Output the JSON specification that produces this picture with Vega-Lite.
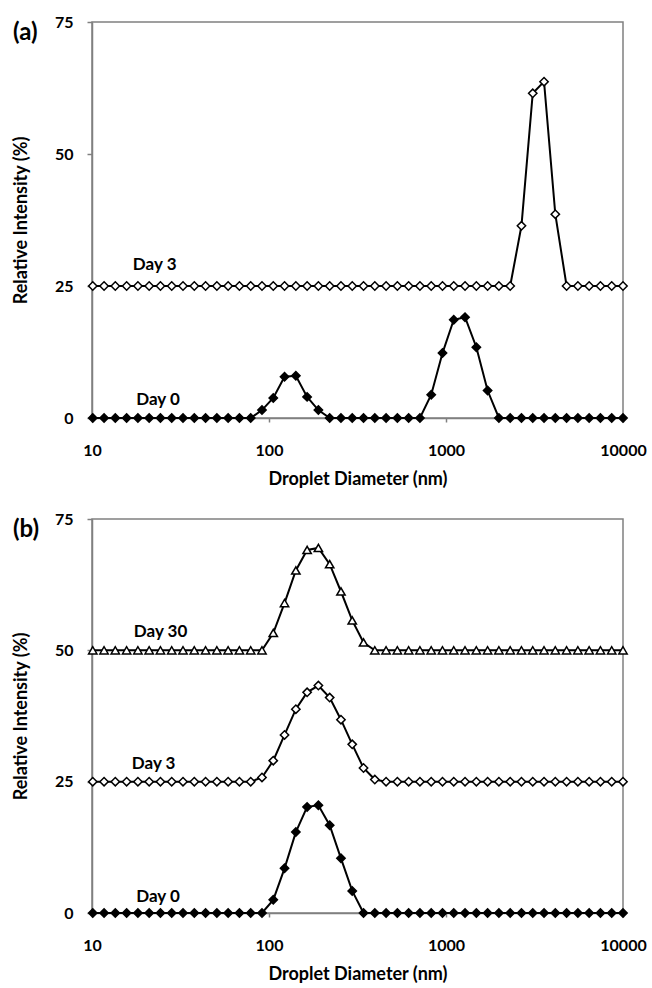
{
  "$schema": "https://vega.github.io/schema/vega-lite/v6.json",
  "padding": {"left": 11, "top": 13, "right": 5, "bottom": 2},
  "spacing": 21,
  "config": {
    "font": "Lato",
    "view": {"stroke": "#808080", "strokeWidth": 1.5},
    "axis": {"domainColor": "#808080", "domainWidth": 1.5, "tickColor": "#808080", "tickWidth": 1.5, "grid": false, "labelFont": "Lato", "labelFontWeight": "bold", "labelFontSize": 16, "labelColor": "black", "titleFont": "Lato", "titleFontWeight": "bold", "titleFontSize": 18, "titleColor": "black", "labelFlush": false},
    "axisX": {"tickSize": 4, "labelPadding": 20, "titlePadding": 12},
    "axisY": {"tickSize": 5, "labelPadding": 14, "titlePadding": 24},
    "title": {"fontSize": 24, "fontWeight": "bold", "font": "Lato", "anchor": "start", "frame": "group", "color": "black", "baseline": "middle", "offset": -5, "dx": -79, "dy": 26}
  },
  "datasets": {
    "a": [
      {"s":"Day 0","d":10.1,"v":0},{"s":"Day 0","d":11.7,"v":0},{"s":"Day 0","d":13.54,"v":0},{"s":"Day 0","d":15.69,"v":0},{"s":"Day 0","d":18.17,"v":0},{"s":"Day 0","d":21.04,"v":0},{"s":"Day 0","d":24.36,"v":0},{"s":"Day 0","d":28.21,"v":0},{"s":"Day 0","d":32.67,"v":0},{"s":"Day 0","d":37.84,"v":0},{"s":"Day 0","d":43.82,"v":0},{"s":"Day 0","d":50.75,"v":0},{"s":"Day 0","d":58.77,"v":0},{"s":"Day 0","d":68.06,"v":0},{"s":"Day 0","d":78.82,"v":0},{"s":"Day 0","d":91.28,"v":1.5},{"s":"Day 0","d":105.7,"v":3.8},{"s":"Day 0","d":122.4,"v":7.8},{"s":"Day 0","d":141.8,"v":8.0},{"s":"Day 0","d":164.2,"v":4.0},{"s":"Day 0","d":190.1,"v":1.5},{"s":"Day 0","d":220.2,"v":0},{"s":"Day 0","d":255,"v":0},{"s":"Day 0","d":295.3,"v":0},{"s":"Day 0","d":342,"v":0},{"s":"Day 0","d":396.1,"v":0},{"s":"Day 0","d":458.7,"v":0},{"s":"Day 0","d":531.2,"v":0},{"s":"Day 0","d":615.1,"v":0},{"s":"Day 0","d":712.4,"v":0},{"s":"Day 0","d":825,"v":4.4},{"s":"Day 0","d":955.4,"v":12.3},{"s":"Day 0","d":1106,"v":18.6},{"s":"Day 0","d":1281,"v":19.1},{"s":"Day 0","d":1484,"v":13.4},{"s":"Day 0","d":1718,"v":5.2},{"s":"Day 0","d":1990,"v":0},{"s":"Day 0","d":2305,"v":0},{"s":"Day 0","d":2669,"v":0},{"s":"Day 0","d":3091,"v":0},{"s":"Day 0","d":3580,"v":0},{"s":"Day 0","d":4145,"v":0},{"s":"Day 0","d":4801,"v":0},{"s":"Day 0","d":5560,"v":0},{"s":"Day 0","d":6439,"v":0},{"s":"Day 0","d":7456,"v":0},{"s":"Day 0","d":8635,"v":0},{"s":"Day 0","d":10000,"v":0},
      {"s":"Day 3","d":10.1,"v":25},{"s":"Day 3","d":11.7,"v":25},{"s":"Day 3","d":13.54,"v":25},{"s":"Day 3","d":15.69,"v":25},{"s":"Day 3","d":18.17,"v":25},{"s":"Day 3","d":21.04,"v":25},{"s":"Day 3","d":24.36,"v":25},{"s":"Day 3","d":28.21,"v":25},{"s":"Day 3","d":32.67,"v":25},{"s":"Day 3","d":37.84,"v":25},{"s":"Day 3","d":43.82,"v":25},{"s":"Day 3","d":50.75,"v":25},{"s":"Day 3","d":58.77,"v":25},{"s":"Day 3","d":68.06,"v":25},{"s":"Day 3","d":78.82,"v":25},{"s":"Day 3","d":91.28,"v":25},{"s":"Day 3","d":105.7,"v":25},{"s":"Day 3","d":122.4,"v":25},{"s":"Day 3","d":141.8,"v":25},{"s":"Day 3","d":164.2,"v":25},{"s":"Day 3","d":190.1,"v":25},{"s":"Day 3","d":220.2,"v":25},{"s":"Day 3","d":255,"v":25},{"s":"Day 3","d":295.3,"v":25},{"s":"Day 3","d":342,"v":25},{"s":"Day 3","d":396.1,"v":25},{"s":"Day 3","d":458.7,"v":25},{"s":"Day 3","d":531.2,"v":25},{"s":"Day 3","d":615.1,"v":25},{"s":"Day 3","d":712.4,"v":25},{"s":"Day 3","d":825,"v":25},{"s":"Day 3","d":955.4,"v":25},{"s":"Day 3","d":1106,"v":25},{"s":"Day 3","d":1281,"v":25},{"s":"Day 3","d":1484,"v":25},{"s":"Day 3","d":1718,"v":25},{"s":"Day 3","d":1990,"v":25},{"s":"Day 3","d":2305,"v":25},{"s":"Day 3","d":2669,"v":36.4},{"s":"Day 3","d":3091,"v":61.5},{"s":"Day 3","d":3580,"v":63.7},{"s":"Day 3","d":4145,"v":38.6},{"s":"Day 3","d":4801,"v":25},{"s":"Day 3","d":5560,"v":25},{"s":"Day 3","d":6439,"v":25},{"s":"Day 3","d":7456,"v":25},{"s":"Day 3","d":8635,"v":25},{"s":"Day 3","d":10000,"v":25}
    ],
    "b": [
      {"s":"Day 0","d":10.1,"v":0},{"s":"Day 0","d":11.7,"v":0},{"s":"Day 0","d":13.54,"v":0},{"s":"Day 0","d":15.69,"v":0},{"s":"Day 0","d":18.17,"v":0},{"s":"Day 0","d":21.04,"v":0},{"s":"Day 0","d":24.36,"v":0},{"s":"Day 0","d":28.21,"v":0},{"s":"Day 0","d":32.67,"v":0},{"s":"Day 0","d":37.84,"v":0},{"s":"Day 0","d":43.82,"v":0},{"s":"Day 0","d":50.75,"v":0},{"s":"Day 0","d":58.77,"v":0},{"s":"Day 0","d":68.06,"v":0},{"s":"Day 0","d":78.82,"v":0},{"s":"Day 0","d":91.28,"v":0},{"s":"Day 0","d":105.7,"v":2.5},{"s":"Day 0","d":122.4,"v":8.5},{"s":"Day 0","d":141.8,"v":15.4},{"s":"Day 0","d":164.2,"v":20.2},{"s":"Day 0","d":190.1,"v":20.5},{"s":"Day 0","d":220.2,"v":16.7},{"s":"Day 0","d":255,"v":10.4},{"s":"Day 0","d":295.3,"v":4.2},{"s":"Day 0","d":342,"v":0},{"s":"Day 0","d":396.1,"v":0},{"s":"Day 0","d":458.7,"v":0},{"s":"Day 0","d":531.2,"v":0},{"s":"Day 0","d":615.1,"v":0},{"s":"Day 0","d":712.4,"v":0},{"s":"Day 0","d":825,"v":0},{"s":"Day 0","d":955.4,"v":0},{"s":"Day 0","d":1106,"v":0},{"s":"Day 0","d":1281,"v":0},{"s":"Day 0","d":1484,"v":0},{"s":"Day 0","d":1718,"v":0},{"s":"Day 0","d":1990,"v":0},{"s":"Day 0","d":2305,"v":0},{"s":"Day 0","d":2669,"v":0},{"s":"Day 0","d":3091,"v":0},{"s":"Day 0","d":3580,"v":0},{"s":"Day 0","d":4145,"v":0},{"s":"Day 0","d":4801,"v":0},{"s":"Day 0","d":5560,"v":0},{"s":"Day 0","d":6439,"v":0},{"s":"Day 0","d":7456,"v":0},{"s":"Day 0","d":8635,"v":0},{"s":"Day 0","d":10000,"v":0},
      {"s":"Day 3","d":10.1,"v":25},{"s":"Day 3","d":11.7,"v":25},{"s":"Day 3","d":13.54,"v":25},{"s":"Day 3","d":15.69,"v":25},{"s":"Day 3","d":18.17,"v":25},{"s":"Day 3","d":21.04,"v":25},{"s":"Day 3","d":24.36,"v":25},{"s":"Day 3","d":28.21,"v":25},{"s":"Day 3","d":32.67,"v":25},{"s":"Day 3","d":37.84,"v":25},{"s":"Day 3","d":43.82,"v":25},{"s":"Day 3","d":50.75,"v":25},{"s":"Day 3","d":58.77,"v":25},{"s":"Day 3","d":68.06,"v":25},{"s":"Day 3","d":78.82,"v":25},{"s":"Day 3","d":91.28,"v":25.8},{"s":"Day 3","d":105.7,"v":29.0},{"s":"Day 3","d":122.4,"v":33.9},{"s":"Day 3","d":141.8,"v":38.8},{"s":"Day 3","d":164.2,"v":42.0},{"s":"Day 3","d":190.1,"v":43.3},{"s":"Day 3","d":220.2,"v":41.0},{"s":"Day 3","d":255,"v":36.8},{"s":"Day 3","d":295.3,"v":32.1},{"s":"Day 3","d":342,"v":27.6},{"s":"Day 3","d":396.1,"v":25.4},{"s":"Day 3","d":458.7,"v":25},{"s":"Day 3","d":531.2,"v":25},{"s":"Day 3","d":615.1,"v":25},{"s":"Day 3","d":712.4,"v":25},{"s":"Day 3","d":825,"v":25},{"s":"Day 3","d":955.4,"v":25},{"s":"Day 3","d":1106,"v":25},{"s":"Day 3","d":1281,"v":25},{"s":"Day 3","d":1484,"v":25},{"s":"Day 3","d":1718,"v":25},{"s":"Day 3","d":1990,"v":25},{"s":"Day 3","d":2305,"v":25},{"s":"Day 3","d":2669,"v":25},{"s":"Day 3","d":3091,"v":25},{"s":"Day 3","d":3580,"v":25},{"s":"Day 3","d":4145,"v":25},{"s":"Day 3","d":4801,"v":25},{"s":"Day 3","d":5560,"v":25},{"s":"Day 3","d":6439,"v":25},{"s":"Day 3","d":7456,"v":25},{"s":"Day 3","d":8635,"v":25},{"s":"Day 3","d":10000,"v":25},
      {"s":"Day 30","d":10.1,"v":50},{"s":"Day 30","d":11.7,"v":50},{"s":"Day 30","d":13.54,"v":50},{"s":"Day 30","d":15.69,"v":50},{"s":"Day 30","d":18.17,"v":50},{"s":"Day 30","d":21.04,"v":50},{"s":"Day 30","d":24.36,"v":50},{"s":"Day 30","d":28.21,"v":50},{"s":"Day 30","d":32.67,"v":50},{"s":"Day 30","d":37.84,"v":50},{"s":"Day 30","d":43.82,"v":50},{"s":"Day 30","d":50.75,"v":50},{"s":"Day 30","d":58.77,"v":50},{"s":"Day 30","d":68.06,"v":50},{"s":"Day 30","d":78.82,"v":50},{"s":"Day 30","d":91.28,"v":50},{"s":"Day 30","d":105.7,"v":53.3},{"s":"Day 30","d":122.4,"v":59.0},{"s":"Day 30","d":141.8,"v":65.2},{"s":"Day 30","d":164.2,"v":69.1},{"s":"Day 30","d":190.1,"v":69.5},{"s":"Day 30","d":220.2,"v":66.4},{"s":"Day 30","d":255,"v":61.2},{"s":"Day 30","d":295.3,"v":55.7},{"s":"Day 30","d":342,"v":51.5},{"s":"Day 30","d":396.1,"v":50},{"s":"Day 30","d":458.7,"v":50},{"s":"Day 30","d":531.2,"v":50},{"s":"Day 30","d":615.1,"v":50},{"s":"Day 30","d":712.4,"v":50},{"s":"Day 30","d":825,"v":50},{"s":"Day 30","d":955.4,"v":50},{"s":"Day 30","d":1106,"v":50},{"s":"Day 30","d":1281,"v":50},{"s":"Day 30","d":1484,"v":50},{"s":"Day 30","d":1718,"v":50},{"s":"Day 30","d":1990,"v":50},{"s":"Day 30","d":2305,"v":50},{"s":"Day 30","d":2669,"v":50},{"s":"Day 30","d":3091,"v":50},{"s":"Day 30","d":3580,"v":50},{"s":"Day 30","d":4145,"v":50},{"s":"Day 30","d":4801,"v":50},{"s":"Day 30","d":5560,"v":50},{"s":"Day 30","d":6439,"v":50},{"s":"Day 30","d":7456,"v":50},{"s":"Day 30","d":8635,"v":50},{"s":"Day 30","d":10000,"v":50}
    ],
    "alab": [
      {"label": "Day 3", "d": 22.6, "v": 29},
      {"label": "Day 0", "d": 23.6, "v": 3.4}
    ],
    "blab": [
      {"label": "Day 30", "d": 24.4, "v": 53.4},
      {"label": "Day 3", "d": 22.3, "v": 28.4},
      {"label": "Day 0", "d": 23.6, "v": 3.1}
    ]
  },
  "vconcat": [
    {
      "title": {"text": "(a)"},
      "width": 531,
      "height": 396,
      "encoding": {
        "x": {"field": "d", "type": "quantitative", "scale": {"type": "log", "domain": [10, 10000]}, "axis": {"values": [10, 100, 1000, 10000], "format": "d", "title": "Droplet Diameter (nm)"}},
        "y": {"field": "v", "type": "quantitative", "scale": {"domain": [0, 75]}, "axis": {"values": [0, 25, 50, 75], "title": "Relative Intensity (%)"}}
      },
      "layer": [
        {"data": {"name": "a"}, "mark": {"type": "line", "color": "black", "strokeWidth": 2}, "encoding": {"detail": {"field": "s"}}},
        {"data": {"name": "a"}, "mark": {"type": "point", "filled": true, "size": 70, "stroke": "black", "strokeWidth": 1.5, "opacity": 1},
         "encoding": {
           "shape": {"field": "s", "type": "nominal", "scale": {"domain": ["Day 0", "Day 3", "Day 30"], "range": ["diamond", "diamond", "triangle-up"]}, "legend": null},
           "fill": {"field": "s", "type": "nominal", "scale": {"domain": ["Day 0", "Day 3", "Day 30"], "range": ["black", "white", "white"]}, "legend": null}
         }},
        {"data": {"name": "alab"}, "mark": {"type": "text", "font": "Lato", "fontWeight": "bold", "fontSize": 17, "color": "black", "align": "center", "baseline": "middle"}, "encoding": {"text": {"field": "label"}}}
      ]
    },
    {
      "title": {"text": "(b)"},
      "width": 531,
      "height": 394,
      "encoding": {
        "x": {"field": "d", "type": "quantitative", "scale": {"type": "log", "domain": [10, 10000]}, "axis": {"values": [10, 100, 1000, 10000], "format": "d", "title": "Droplet Diameter (nm)"}},
        "y": {"field": "v", "type": "quantitative", "scale": {"domain": [0, 75]}, "axis": {"values": [0, 25, 50, 75], "title": "Relative Intensity (%)"}}
      },
      "layer": [
        {"data": {"name": "b"}, "mark": {"type": "line", "color": "black", "strokeWidth": 2}, "encoding": {"detail": {"field": "s"}}},
        {"data": {"name": "b"}, "mark": {"type": "point", "filled": true, "size": 70, "stroke": "black", "strokeWidth": 1.5, "opacity": 1},
         "encoding": {
           "shape": {"field": "s", "type": "nominal", "scale": {"domain": ["Day 0", "Day 3", "Day 30"], "range": ["diamond", "diamond", "triangle-up"]}, "legend": null},
           "fill": {"field": "s", "type": "nominal", "scale": {"domain": ["Day 0", "Day 3", "Day 30"], "range": ["black", "white", "white"]}, "legend": null}
         }},
        {"data": {"name": "blab"}, "mark": {"type": "text", "font": "Lato", "fontWeight": "bold", "fontSize": 17, "color": "black", "align": "center", "baseline": "middle"}, "encoding": {"text": {"field": "label"}}}
      ]
    }
  ]
}
